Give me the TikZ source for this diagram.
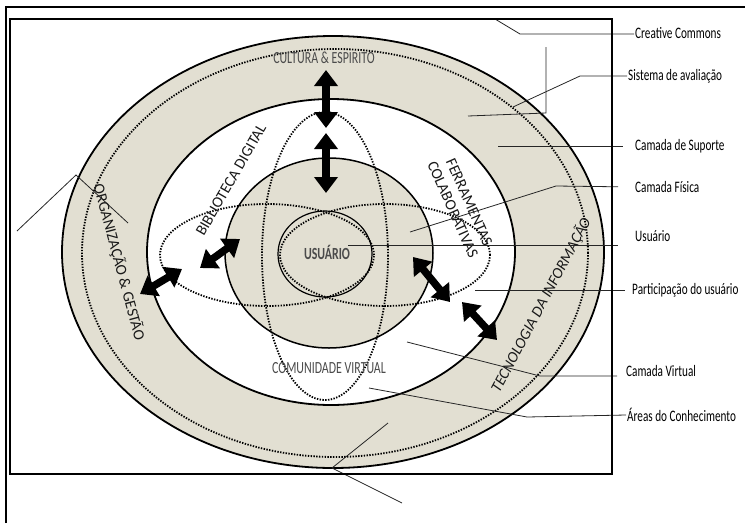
\documentclass[tikz,border=0pt]{standalone}
\usepackage{fontspec}
\setmainfont{Carlito}
\newfontfamily\narrowfont[FakeStretch=0.7]{Carlito}
\usetikzlibrary{arrows.meta}
\definecolor{bege}{RGB}{226,223,210}
\definecolor{cinza}{RGB}{75,75,75}

\begin{document}
\begin{tikzpicture}[x=1pt,y=-1pt,
        pontilhado/.style={line width=1.8pt,dash pattern=on 1.4pt off 1.4pt},
        guia/.style={line width=0.8pt,draw=black!85},
        seta/.style={line width=7.5pt,{Triangle[width=23pt,length=16pt]}-{Triangle[width=23pt,length=16pt]}}]
        \useasboundingbox (0,0) rectangle (745,523);

        \filldraw[fill=bege,line width=1.8pt] (333,252) ellipse [x radius=271pt,y radius=216pt];
        \draw[pontilhado] (335,253) ellipse [x radius=253pt,y radius=204pt];
        \filldraw[fill=white,line width=1.8pt] (331,252) ellipse [x radius=184pt,y radius=153pt];
        \filldraw[fill=bege,line width=1.5pt] (329,253) ellipse [x radius=104pt,y radius=95pt];

        \draw[pontilhado] (325,256) ellipse [x radius=63pt,y radius=144pt];
        \draw[pontilhado] (267,255) ellipse [x radius=107pt,y radius=51pt];
        \draw[pontilhado] (385,255) ellipse [x radius=105pt,y radius=51pt];
        \draw[line width=1.2pt] (325,254) ellipse [x radius=47pt,y radius=43pt];

        \coordinate (s1) at (326,70);   \coordinate (s1b) at (326,128);
        \coordinate (s2) at (326,133);  \coordinate (s2b) at (326,193);
        \coordinate (s3) at (140,294);  \coordinate (s3b) at (182,269);
        \coordinate (s4) at (200,268);  \coordinate (s4b) at (240,239);
        \coordinate (s5) at (413,257);  \coordinate (s5b) at (450,302);
        \coordinate (s6) at (462,302);  \coordinate (s6b) at (497,340);
        \draw[seta] (s1) -- (s1b);
        \draw[seta] (s2) -- (s2b);
        \draw[seta] (s3) -- (s3b);
        \draw[seta] (s4) -- (s4b);
        \draw[seta] (s5) -- (s5b);
        \draw[seta] (s6) -- (s6b);

        \begin{scope}[every node/.style={inner sep=1pt,font=\narrowfont\fontsize{17}{19}\selectfont,text=cinza}]
            \node (cult) at (324,58) {CULTURA \& ESPIRITO};
            \node (usu) at (327,252) {\bfseries USUÁRIO};
            \node (cvir) at (329,368) {COMUNIDADE VIRTUAL};
        \end{scope}

        \begin{scope}[every node/.style={inner sep=1pt,font=\fontsize{15.5}{18}\selectfont,text=black!90}]
            \node[rotate=60] (bib) at (231,180) {BIBLIOTECA DIGITAL};
            \node[rotate=-66,align=center] (ferr) at (461,206) {FERRAMENTAS\\COLABORATIVAS};
            \node[rotate=-75] (org) at (119,262) {ORGANIZAÇÃO \& GESTÃO};
            \node[rotate=62] (tec) at (541,305) {\itshape TECNOLOGIA DA INFORMAÇÃO};
        \end{scope}

        \begin{scope}[every node/.style={anchor=west,inner sep=1pt,font=\narrowfont\fontsize{16}{18}\selectfont}]
            \node (cc) at (634,33) {Creative Commons};
            \node (sa) at (627,76) {Sistema de avaliação};
            \node (cs) at (634,146) {Camada de Suporte};
            \node (cf) at (634,187) {Camada Física};
            \node (us) at (634,236) {Usuário};
            \node (pu) at (631,290) {Participação do usuário};
            \node (cv) at (625,371) {Camada Virtual};
            \node (ac) at (626,415) {Áreas do Conhecimento};
        \end{scope}

        \coordinate (g1) at (495,19);   \coordinate (g1b) at (520,34);
        \coordinate (g2) at (513,107);  \coordinate (g2b) at (580,76);
        \coordinate (g3) at (468,116);  \coordinate (g3b) at (546,113);  \coordinate (g3c) at (546,47);
        \coordinate (g4) at (498,146);
        \coordinate (g5) at (410,232);  \coordinate (g5b) at (556,186);
        \coordinate (g6) at (348,245);
        \coordinate (g7) at (475,290);
        \coordinate (g8) at (407,342);  \coordinate (g8b) at (540,376);
        \coordinate (g9) at (369,388);  \coordinate (g9b) at (527,417);
        \coordinate (g10) at (388,423); \coordinate (g10b) at (332,468); \coordinate (g10c) at (402,503);
        \coordinate (g11) at (17,231);  \coordinate (g11b) at (76,175);  \coordinate (g11c) at (128,223);

        \draw[guia] (g1) -- (g1b) -- (cc.west |- g1b);
        \draw[guia] (g2) -- (g2b) -- (sa.west);
        \draw[guia] (g3) -- (g3b) -- (g3c);
        \draw[guia,shorten >=11pt] (g4) -- (cs.west);
        \draw[guia,shorten >=16pt] (g5) -- (g5b) -- (cf.west);
        \draw[guia,shorten >=16pt] (g6) -- (us.west |- g6);
        \draw[guia,shorten >=6pt] (g7) -- (pu.west);
        \draw[guia,shorten >=8pt] (g8) -- (g8b) -- (cv.west |- g8b);
        \draw[guia] (g9) -- (g9b) -- (ac.west);
        \draw[guia] (g10) -- (g10b) -- (g10c);
        \draw[guia] (g11) -- (g11b) -- (g11c);

        \draw[line width=1.5pt] (6,523) -- (6,7) -- (745,7);
        \draw[line width=1.6pt] (10,19) rectangle (612,474);

\end{tikzpicture}
\end{document}
